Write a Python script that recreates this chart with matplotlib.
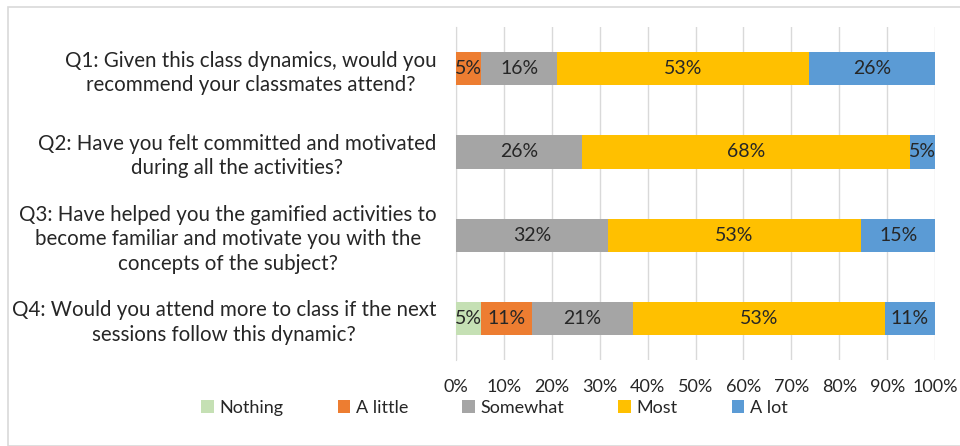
import numpy as np
import matplotlib.pyplot as plt
from matplotlib.patches import Rectangle

plt.rcParams['font.family'] = ['Lato', 'DejaVu Sans']

questions = [
    'Q1: Given this class dynamics, would you\nrecommend your classmates attend?',
    'Q2: Have you felt committed and motivated\nduring all the activities?',
    'Q3: Have helped you the gamified activities to\nbecome familiar and motivate you with the\nconcepts of the subject?',
    'Q4: Would you attend more to class if the next\nsessions follow this dynamic?',
]
answers = ['Nothing', 'A little', 'Somewhat', 'Most', 'A lot']

# share of answers per question (%)
nothing = [0.0, 0.0, 0.0, 5.3]
a_little = [5.3, 0.0, 0.0, 10.6]
somewhat = [15.8, 26.3, 31.7, 21.0]
most = [52.6, 68.4, 52.9, 52.6]
a_lot = [26.3, 5.3, 15.4, 10.6]

colors = ['#C5E0B4', '#ED7D31', '#A5A5A5', '#FFC000', '#5B9BD5']

fig = plt.figure(figsize=(9.6, 4.46), dpi=100)
ax = fig.add_axes([0.475, 0.193, 0.499, 0.746])

# light frame round the chart like the office export
fig.patches.append(Rectangle((0.008, 0.0), 1.2, 0.985, transform=fig.transFigure,
                             fill=False, edgecolor='#D9D9D9', linewidth=1.2))

y = np.arange(len(questions))
left = np.zeros(len(questions))
for name, vals, col in zip(answers, [nothing, a_little, somewhat, most, a_lot], colors):
    vals = np.array(vals)
    bars = ax.barh(y, vals, left=left, height=0.4, color=col, label=name, zorder=3)
    labs = ['%d%%' % int(v + 0.5) if v > 0 else '' for v in vals]
    ax.bar_label(bars, labels=labs, label_type='center', fontsize=14, color='#262626')
    left += vals

ax.set_xlim(0, 100)
ax.set_ylim(3.5, -0.5)
ax.set_xticks(np.arange(0, 101, 10))
ax.set_xticklabels(['%d%%' % t for t in range(0, 101, 10)], fontsize=13, color='#262626')
ax.set_yticks(y)
ax.set_yticklabels(questions, fontsize=14.8, color='#262626', multialignment='center',
                   linespacing=1.28)
ax.tick_params(axis='both', length=0)
ax.tick_params(axis='y', pad=14)
ax.tick_params(axis='x', pad=14)
ax.grid(axis='x', color='#D9D9D9', linewidth=1, zorder=0)
for s in ['top', 'right', 'bottom']:
    ax.spines[s].set_visible(False)
ax.spines['left'].set_color('#D9D9D9')

fig.legend(loc='center', bbox_to_anchor=(0.515, 0.085), ncol=5, frameon=False,
           fontsize=13, handlelength=0.7, handleheight=0.7, handletextpad=0.3,
           columnspacing=3.0, labelcolor='#262626')

fig.savefig('out.png', dpi=100)
